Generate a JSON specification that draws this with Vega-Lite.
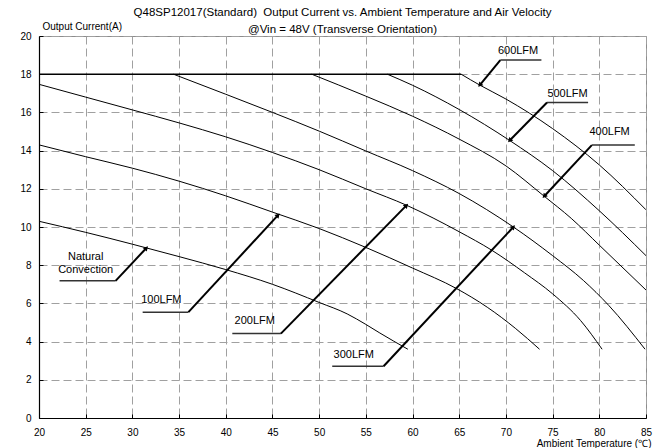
{
  "$schema": "https://vega.github.io/schema/vega-lite/v6.json",
  "width": 607,
  "height": 382,
  "autosize": {"type": "none"},
  "padding": {"left": 39, "top": 36, "right": 12, "bottom": 30},
  "config": {
    "view": {"stroke": "#8c8c8c", "strokeWidth": 1},
    "font": "Liberation Sans",
    "text": {"font": "Liberation Sans"}
  },
  "title": {
    "text": ["Q48SP12017(Standard)\u00a0 Output Current vs. Ambient Temperature and Air Velocity", "@Vin = 48V (Transverse Orientation)"],
    "fontSize": 11.5,
    "fontWeight": "normal",
    "font": "Liberation Sans",
    "color": "#000000",
    "anchor": "middle",
    "frame": "group",
    "lineHeight": 17,
    "offset": -14
  },
  "datasets": {
    "curves": [
      {"series": "Max", "t": 20, "current": 18},
      {"series": "Max", "t": 65.2, "current": 18},
      {"series": "NC", "t": 20, "current": 10.3},
      {"series": "NC", "t": 25, "current": 9.72},
      {"series": "NC", "t": 30, "current": 9.1},
      {"series": "NC", "t": 35, "current": 8.45},
      {"series": "NC", "t": 40, "current": 7.77},
      {"series": "NC", "t": 45, "current": 7.0},
      {"series": "NC", "t": 50, "current": 6.05},
      {"series": "NC", "t": 53, "current": 5.45},
      {"series": "NC", "t": 55, "current": 4.9},
      {"series": "NC", "t": 56.5, "current": 4.45},
      {"series": "NC", "t": 59.5, "current": 3.6},
      {"series": "100LFM", "t": 20, "current": 14.3},
      {"series": "100LFM", "t": 25, "current": 13.68},
      {"series": "100LFM", "t": 30, "current": 13.08},
      {"series": "100LFM", "t": 35, "current": 12.4},
      {"series": "100LFM", "t": 40, "current": 11.63},
      {"series": "100LFM", "t": 45, "current": 10.78},
      {"series": "100LFM", "t": 50, "current": 9.92},
      {"series": "100LFM", "t": 55, "current": 8.93},
      {"series": "100LFM", "t": 60, "current": 7.85},
      {"series": "100LFM", "t": 64.7, "current": 6.78},
      {"series": "100LFM", "t": 68, "current": 5.8},
      {"series": "100LFM", "t": 71, "current": 4.7},
      {"series": "100LFM", "t": 73.6, "current": 3.6},
      {"series": "200LFM", "t": 20, "current": 17.47},
      {"series": "200LFM", "t": 25, "current": 16.8},
      {"series": "200LFM", "t": 30, "current": 16.13},
      {"series": "200LFM", "t": 35, "current": 15.45},
      {"series": "200LFM", "t": 40, "current": 14.72},
      {"series": "200LFM", "t": 45, "current": 13.9},
      {"series": "200LFM", "t": 50, "current": 13.0},
      {"series": "200LFM", "t": 55, "current": 12.0},
      {"series": "200LFM", "t": 59.4, "current": 11.13},
      {"series": "200LFM", "t": 65, "current": 9.75},
      {"series": "200LFM", "t": 68.5, "current": 8.78},
      {"series": "200LFM", "t": 72, "current": 7.6},
      {"series": "200LFM", "t": 75, "current": 6.5},
      {"series": "200LFM", "t": 78, "current": 5.1},
      {"series": "200LFM", "t": 80.3, "current": 3.6},
      {"series": "300LFM", "t": 34.4, "current": 18},
      {"series": "300LFM", "t": 40, "current": 16.95},
      {"series": "300LFM", "t": 45, "current": 16.0},
      {"series": "300LFM", "t": 50, "current": 15.02},
      {"series": "300LFM", "t": 55, "current": 13.98},
      {"series": "300LFM", "t": 60, "current": 12.95},
      {"series": "300LFM", "t": 65, "current": 11.75},
      {"series": "300LFM", "t": 70.8, "current": 10.0},
      {"series": "300LFM", "t": 75, "current": 8.5},
      {"series": "300LFM", "t": 78.3, "current": 7.2},
      {"series": "300LFM", "t": 81, "current": 5.9},
      {"series": "300LFM", "t": 84.9, "current": 3.6},
      {"series": "400LFM", "t": 49.2, "current": 18},
      {"series": "400LFM", "t": 55, "current": 16.85},
      {"series": "400LFM", "t": 60, "current": 15.8},
      {"series": "400LFM", "t": 65, "current": 14.6},
      {"series": "400LFM", "t": 70, "current": 13.2},
      {"series": "400LFM", "t": 74.1, "current": 11.61},
      {"series": "400LFM", "t": 77, "current": 10.45},
      {"series": "400LFM", "t": 80, "current": 9.05},
      {"series": "400LFM", "t": 85, "current": 6.7},
      {"series": "500LFM", "t": 57.3, "current": 18},
      {"series": "500LFM", "t": 60, "current": 17.42},
      {"series": "500LFM", "t": 65, "current": 16.15},
      {"series": "500LFM", "t": 70.4, "current": 14.53},
      {"series": "500LFM", "t": 75, "current": 12.95},
      {"series": "500LFM", "t": 80, "current": 10.85},
      {"series": "500LFM", "t": 85, "current": 8.5},
      {"series": "600LFM", "t": 65.2, "current": 18},
      {"series": "600LFM", "t": 67.2, "current": 17.43},
      {"series": "600LFM", "t": 70, "current": 16.7},
      {"series": "600LFM", "t": 75, "current": 15.15},
      {"series": "600LFM", "t": 80, "current": 13.25},
      {"series": "600LFM", "t": 85, "current": 10.9}
    ],
    "callouts": [
      {"name": "NC", "dir": "up", "ux1": 22.2, "ux2": 28.2, "cx": 28.2, "uy": 7.18, "tx": 31.5, "ty": 8.9},
      {"name": "100LFM", "dir": "up", "ux1": 31.1, "ux2": 36.0, "cx": 36.0, "uy": 5.54, "tx": 45.6, "ty": 10.62},
      {"name": "200LFM", "dir": "up", "ux1": 40.7, "ux2": 45.9, "cx": 45.9, "uy": 4.42, "tx": 59.35, "ty": 11.13},
      {"name": "300LFM", "dir": "up", "ux1": 51.4, "ux2": 56.9, "cx": 56.9, "uy": 2.71, "tx": 70.8, "ty": 10.0},
      {"name": "600LFM", "dir": "down", "ux1": 69.4, "ux2": 73.8, "cx": 69.4, "uy": 18.74, "tx": 67.2, "ty": 17.43},
      {"name": "500LFM", "dir": "down", "ux1": 74.4, "ux2": 78.8, "cx": 74.4, "uy": 16.52, "tx": 70.4, "ty": 14.53},
      {"name": "400LFM", "dir": "down", "ux1": 79.2, "ux2": 83.8, "cx": 79.2, "uy": 14.29, "tx": 74.1, "ty": 11.61}
    ],
    "labels": [
      {"text": "Natural", "t": 25.0, "current": 8.45},
      {"text": "Convection", "t": 25.0, "current": 7.75},
      {"text": "100LFM", "t": 33.1, "current": 6.16},
      {"text": "200LFM", "t": 43.1, "current": 5.06},
      {"text": "300LFM", "t": 53.7, "current": 3.28},
      {"text": "600LFM", "t": 71.3, "current": 19.2},
      {"text": "500LFM", "t": 76.6, "current": 16.94},
      {"text": "400LFM", "t": 81.1, "current": 14.98}
    ]
  },
  "layer": [
    {
      "data": {"name": "curves"},
      "mark": {"type": "line", "interpolate": "monotone", "color": "#000000", "clip": true},
      "encoding": {
        "x": {
          "field": "t", "type": "quantitative",
          "scale": {"domain": [20, 85], "nice": false, "zero": false},
          "axis": {
            "format": "d",
            "labelFlush": false,
            "labelOverlap": false,
            "labelFontSize": 10,
            "labelColor": "#000000",
            "labelPadding": 13,
            "tickSize": -4,
            "tickColor": "#000000",
            "domainColor": "#000000",
            "domainWidth": 1.2,
            "grid": true,
            "gridColor": "#a0a0a0",
            "gridDash": [8, 4],
            "gridWidth": 1,
            "gridOpacity": 1,
            "title": "Ambient Temperature (℃)",
            "titleFontSize": 10,
            "titleFontWeight": "normal",
            "titleColor": "#000000",
            "titleAlign": "right",
            "titleBaseline": "alphabetic",
            "titleAnchor": "end",
            "titleX": 612,
            "titleY": 28
          }
        },
        "y": {
          "field": "current", "type": "quantitative",
          "scale": {"domain": [0, 20], "nice": false},
          "axis": {
            "format": "d",
            "labelFlush": false,
            "labelOverlap": false,
            "labelFontSize": 10,
            "labelColor": "#000000",
            "labelPadding": 12,
            "tickSize": -4,
            "tickColor": "#000000",
            "domainColor": "#000000",
            "domainWidth": 1.2,
            "grid": true,
            "gridColor": "#a0a0a0",
            "gridDash": [8, 4],
            "gridWidth": 1,
            "gridOpacity": 1,
            "title": "Output Current(A)",
            "titleFontSize": 10,
            "titleFontWeight": "normal",
            "titleColor": "#000000",
            "titleAngle": 0,
            "titleAlign": "left",
            "titleBaseline": "alphabetic",
            "titleAnchor": "start",
            "titleX": 3,
            "titleY": -7
          }
        },
        "detail": {"field": "series", "type": "nominal"},
        "strokeWidth": {"condition": {"test": "datum.series === 'Max'", "value": 1.5}, "value": 1}
      }
    },
    {
      "data": {"name": "callouts"},
      "mark": {"type": "rule", "color": "#333333", "strokeWidth": 1.5},
      "encoding": {
        "x": {"field": "ux1", "type": "quantitative"},
        "x2": {"field": "ux2"},
        "y": {"field": "uy", "type": "quantitative"}
      }
    },
    {
      "data": {"name": "callouts"},
      "mark": {"type": "rule", "color": "#000000", "strokeWidth": 2},
      "encoding": {
        "x": {"field": "cx", "type": "quantitative"},
        "x2": {"field": "tx"},
        "y": {"field": "uy", "type": "quantitative"},
        "y2": {"field": "ty"}
      }
    },
    {
      "data": {"name": "callouts"},
      "transform": [{"filter": "datum.dir === 'up'"}],
      "mark": {"type": "point", "shape": "triangle-up", "filled": true, "color": "#000000", "size": 30, "angle": 43, "opacity": 1},
      "encoding": {
        "x": {"field": "tx", "type": "quantitative"},
        "y": {"field": "ty", "type": "quantitative"}
      }
    },
    {
      "data": {"name": "callouts"},
      "transform": [{"filter": "datum.dir === 'down'"}],
      "mark": {"type": "point", "shape": "triangle-up", "filled": true, "color": "#000000", "size": 30, "angle": 222, "opacity": 1},
      "encoding": {
        "x": {"field": "tx", "type": "quantitative"},
        "y": {"field": "ty", "type": "quantitative"}
      }
    },
    {
      "data": {"name": "labels"},
      "mark": {"type": "text", "fontSize": 11, "color": "#000000", "align": "center", "baseline": "middle", "font": "Liberation Sans"},
      "encoding": {
        "x": {"field": "t", "type": "quantitative"},
        "y": {"field": "current", "type": "quantitative"},
        "text": {"field": "text", "type": "nominal"}
      }
    }
  ]
}
